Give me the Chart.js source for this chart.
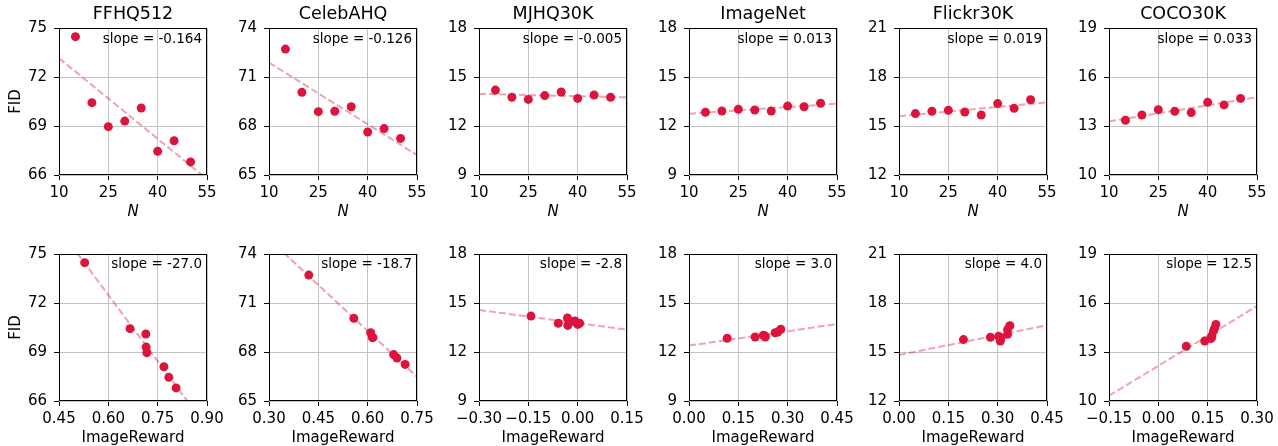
<!DOCTYPE html>
<html>
<head>
<meta charset="utf-8">
<script src="https://cdn.jsdelivr.net/npm/chart.js@4.4.0/dist/chart.umd.min.js"></script>
<style>
  html, body { margin: 0; padding: 0; background: #fff; }
  #fig { position: relative; width: 1278px; height: 446px; overflow: hidden; }
  #fig canvas { position: absolute; }
</style>
</head>
<body>
<div id="fig"></div>
<script>
'use strict';

/* ── DATA ── */
const names = ['FFHQ512', 'CelebAHQ', 'MJHQ30K', 'ImageNet', 'Flickr30K', 'COCO30K'];
const nValues = [15, 20, 25, 30, 35, 40, 45, 50];

const fidFFHQ512  = [74.47, 70.43, 68.96, 69.30, 70.10, 67.45, 68.10, 66.80];
const fidCelebAHQ = [72.71, 70.06, 68.88, 68.90, 69.18, 67.63, 67.84, 67.24];
const fidMJHQ30K  = [14.20, 13.76, 13.63, 13.86, 14.08, 13.69, 13.90, 13.76];
const fidImageNet = [12.84, 12.92, 13.02, 12.98, 12.92, 13.22, 13.18, 13.39];
const fidFlickr30K = [15.76, 15.90, 15.96, 15.86, 15.67, 16.37, 16.08, 16.61];
const fidCOCO30K  = [13.35, 13.67, 14.00, 13.90, 13.82, 14.45, 14.29, 14.69];

const irFFHQ512  = [0.528, 0.666, 0.717, 0.715, 0.714, 0.784, 0.769, 0.806];
const irCelebAHQ = [0.421, 0.558, 0.616, 0.614, 0.609, 0.689, 0.679, 0.714];
const irMJHQ30K  = [-0.142, -0.059, -0.030, -0.012, -0.031, 0.000, -0.008, 0.006];
const irImageNet = [0.116, 0.201, 0.226, 0.231, 0.232, 0.270, 0.262, 0.279];
const irFlickr30K = [0.196, 0.278, 0.303, 0.310, 0.308, 0.330, 0.330, 0.337];
const irCOCO30K  = [0.085, 0.141, 0.163, 0.162, 0.160, 0.171, 0.168, 0.175];

const slopeN  = ['-0.164', '-0.126', '-0.005', '0.013', '0.019', '0.033'];
const slopeIR = ['-27.0', '-18.7', '-2.8', '3.0', '4.0', '12.5'];

// y ticks per dataset
const yTicksFFHQ512  = [66, 69, 72, 75];
const yTicksCelebAHQ = [65, 68, 71, 74];
const yTicksMJHQ30K  = [9, 12, 15, 18];
const yTicksImageNet = [9, 12, 15, 18];
const yTicksFlickr30K = [12, 15, 18, 21];
const yTicksCOCO30K  = [10, 13, 16, 19];

// x ticks
const nTicks = [10, 25, 40, 55];
const nTickLabels = ['10', '25', '40', '55'];
const irTicksFFHQ512  = [0.45, 0.60, 0.75, 0.90];
const irLabelsFFHQ512 = ['0.45', '0.60', '0.75', '0.90'];
const irTicksCelebAHQ  = [0.30, 0.45, 0.60, 0.75];
const irLabelsCelebAHQ = ['0.30', '0.45', '0.60', '0.75'];
const irTicksMJHQ30K  = [-0.30, -0.15, 0.00, 0.15];
const irLabelsMJHQ30K = ['\u22120.30', '\u22120.15', '0.00', '0.15'];
const irTicksImageNet  = [0.00, 0.15, 0.30, 0.45];
const irLabelsImageNet = ['0.00', '0.15', '0.30', '0.45'];
const irTicksFlickr30K  = [0.00, 0.15, 0.30, 0.45];
const irLabelsFlickr30K = ['0.00', '0.15', '0.30', '0.45'];
const irTicksCOCO30K  = [-0.15, 0.00, 0.15, 0.30];
const irLabelsCOCO30K = ['\u22120.15', '0.00', '0.15', '0.30'];

/* ── STYLE ── */
const FONT = "'DejaVu Sans', sans-serif";
const DOT = '#dc143c';
const FIT = 'rgba(220, 20, 60, 0.4)';
const GRID = '#c4c4c4';
const CW = 228, CH = 220;           // canvas size per panel
const PLOT_L = 59, PLOT_R = 207, PLOT_T = 28, PLOT_B = 175;

const fidList = [fidFFHQ512, fidCelebAHQ, fidMJHQ30K, fidImageNet, fidFlickr30K, fidCOCO30K];
const irList = [irFFHQ512, irCelebAHQ, irMJHQ30K, irImageNet, irFlickr30K, irCOCO30K];
const yTickList = [yTicksFFHQ512, yTicksCelebAHQ, yTicksMJHQ30K, yTicksImageNet, yTicksFlickr30K, yTicksCOCO30K];
const irTickList = [irTicksFFHQ512, irTicksCelebAHQ, irTicksMJHQ30K, irTicksImageNet, irTicksFlickr30K, irTicksCOCO30K];
const irLabelList = [irLabelsFFHQ512, irLabelsCelebAHQ, irLabelsMJHQ30K, irLabelsImageNet, irLabelsFlickr30K, irLabelsCOCO30K];

/* ── least squares line over the axis range ── */
function fitLine(xs, ys, lo, hi) {
  const n = xs.length;
  const mx = xs.reduce((a, b) => a + b, 0) / n;
  const my = ys.reduce((a, b) => a + b, 0) / n;
  let sxy = 0, sxx = 0;
  xs.forEach((x, i) => { sxy += (x - mx) * (ys[i] - my); sxx += (x - mx) * (x - mx); });
  const b = sxy / sxx, a = my - b * mx;
  return [{ x: lo, y: a + b * lo }, { x: hi, y: a + b * hi }];
}

/* ── frame, title, slope text ── */
const panelText = {
  id: 'panelText',
  afterDraw(chart, args, opts) {
    const { ctx, chartArea: a } = chart;
    ctx.save();
    ctx.strokeStyle = '#000';
    ctx.lineWidth = 1;
    ctx.strokeRect(Math.round(a.left) + 0.5, Math.round(a.top) + 0.5,
                   Math.round(a.right - a.left) - 1, Math.round(a.bottom - a.top) - 1);
    ctx.fillStyle = '#000';
    if (opts.title) {
      ctx.font = '17.5px ' + FONT;
      ctx.textAlign = 'center';
      ctx.textBaseline = 'middle';
      ctx.fillText(opts.title, (a.left + a.right) / 2, a.top - 13.5);
    }
    ctx.font = '13.5px ' + FONT;
    ctx.textAlign = 'right';
    ctx.textBaseline = 'middle';
    ctx.fillText('slope = ' + opts.slope, a.right - 5, a.top + opts.slopeDy);
    ctx.restore();
  }
};

function tickFont() { return { family: FONT, size: 15 }; }

function makePanel(row, col) {
  const canvas = document.createElement('canvas');
  canvas.width = CW;
  canvas.height = CH;
  canvas.style.left = (col * 210) + 'px';
  canvas.style.top = (row * 226) + 'px';
  document.getElementById('fig').appendChild(canvas);

  const ys = fidList[col];
  const xs = row === 0 ? nValues : irList[col];
  const xt = row === 0 ? nTicks : irTickList[col];
  const xl = row === 0 ? nTickLabels : irLabelList[col];
  const yt = yTickList[col];
  const xMin = xt[0], xMax = xt[xt.length - 1];

  new Chart(canvas, {
    type: 'scatter',
    data: {
      datasets: [
        {
          data: xs.map((x, i) => ({ x: x, y: ys[i] })),
          backgroundColor: DOT,
          borderWidth: 0,
          pointRadius: 4.5
        },
        {
          type: 'line',
          data: fitLine(xs, ys, xMin, xMax),
          borderColor: FIT,
          borderWidth: 2,
          borderDash: [7, 3],
          pointRadius: 0,
          fill: false
        }
      ]
    },
    options: {
      responsive: false,
      animation: false,
      events: [],
      layout: { padding: { left: 0, top: PLOT_T, right: CW - PLOT_R, bottom: 0 } },
      plugins: {
        legend: { display: false },
        tooltip: { enabled: false },
        panelText: {
          title: row === 0 ? names[col] : '',
          slope: row === 0 ? slopeN[col] : slopeIR[col],
          slopeDy: row === 0 ? 11 : 10
        }
      },
      scales: {
        x: {
          type: 'linear',
          min: xMin, max: xMax,
          afterBuildTicks: ax => { ax.ticks = xt.map(v => ({ value: v })); },
          afterFit: ax => { ax.height = CH - PLOT_B; },
          border: { display: false },
          grid: { color: GRID, lineWidth: 1, tickLength: 5, tickColor: '#000', drawTicks: true },
          ticks: { font: tickFont(), color: '#000', padding: 4, maxRotation: 0, autoSkip: false,
                   callback: (v, i) => xl[i] },
          title: {
            display: true,
            text: row === 0 ? 'N' : 'ImageReward',
            color: '#000',
            font: { family: FONT, size: 15, lineHeight: 1, style: row === 0 ? 'italic' : 'normal' },
            padding: { top: row === 0 ? 1.8 : 0.2, bottom: 0 }
          }
        },
        y: {
          type: 'linear',
          min: yt[0], max: yt[yt.length - 1],
          afterBuildTicks: ax => { ax.ticks = yt.map(v => ({ value: v })); },
          afterFit: ax => { ax.width = PLOT_L; },
          border: { display: false },
          grid: { color: GRID, lineWidth: 1, tickLength: 5, tickColor: '#000', drawTicks: true },
          ticks: { font: tickFont(), color: '#000', padding: 7, autoSkip: false,
                   callback: v => String(v) },
          title: {
            display: col === 0,
            text: 'FID',
            color: '#000',
            font: { family: FONT, size: 15, lineHeight: 1 },
            padding: { top: 8.8, bottom: 0 }
          }
        }
      }
    },
    plugins: [panelText]
  });
}

for (let r = 0; r < 2; r++) {
  for (let c = 0; c < 6; c++) makePanel(r, c);
}
</script>
</body>
</html>
